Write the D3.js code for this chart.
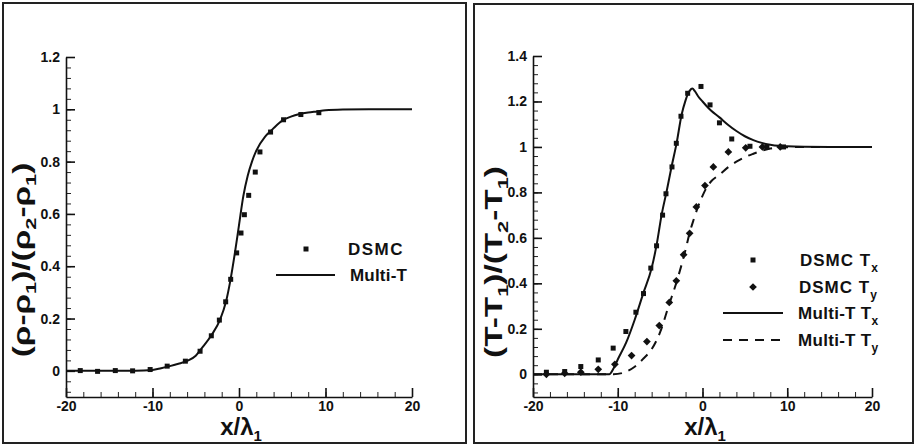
<!DOCTYPE html>
<html>
<head>
<meta charset="utf-8">
<script src="https://cdn.jsdelivr.net/npm/d3@7"></script>
<style>
  body { margin: 0; background: #fff; }
  text { font-family: "Liberation Sans", Arial, sans-serif; font-weight: bold; fill: #111; }
</style>
</head>
<body>
<div id="chart"></div>
<script>
// axis ticks
var xTicks = [-20, -10, 0, 10, 20];
var xTickLabels = ["-20", "-10", "0", "10", "20"];
var rhoYTicks = [0, 0.2, 0.4, 0.6, 0.8, 1, 1.2];
var rhoYTickLabels = ["0", "0.2", "0.4", "0.6", "0.8", "1", "1.2"];
var tYTicks = [0, 0.2, 0.4, 0.6, 0.8, 1, 1.2, 1.4];
var tYTickLabels = ["0", "0.2", "0.4", "0.6", "0.8", "1", "1.2", "1.4"];

// density: DSMC points
var rhoDsmcX = [-18.35, -16.35, -14.3, -12.3, -10.27, -8.3, -6.2, -4.5, -3.2, -2.27, -1.54, -0.96, -0.27, 0.23, 0.62, 1.12, 1.88, 2.42, 3.65, 5.15, 7.15, 9.23];
var rhoDsmcY = [0.001, -0.002, 0.001, 0, 0.005, 0.018, 0.037, 0.075, 0.134, 0.194, 0.264, 0.35, 0.451, 0.527, 0.597, 0.671, 0.76, 0.837, 0.913, 0.96, 0.98, 0.987];
// density: Multi-T curve
var rhoMultiX = [-20, -12, -10, -9, -8, -7, -6, -5, -4.3, -3.15, -2.2, -1.5, -1, -0.5, 0, 0.5, 1, 1.5, 2, 3, 3.6, 4, 5, 6, 7, 8, 9, 10, 12, 15, 20];
var rhoMultiY = [0, 0, 0.003, 0.01, 0.018, 0.027, 0.038, 0.058, 0.087, 0.138, 0.195, 0.265, 0.345, 0.445, 0.557, 0.668, 0.745, 0.8, 0.842, 0.895, 0.915, 0.928, 0.957, 0.972, 0.982, 0.988, 0.992, 0.996, 0.999, 1, 1];

// temperature: DSMC Tx (squares)
var txDsmcX = [-18.42, -16.26, -14.36, -12.3, -10.54, -9.04, -7.86, -6.96, -6.1, -5.42, -4.71, -4.31, -3.6, -3.09, -2.54, -1.75, -0.18, 0.89, 2.0, 3.45, 5.6, 7.6, 9.56];
var txDsmcY = [0.009, 0.012, 0.034, 0.063, 0.115, 0.188, 0.273, 0.355, 0.467, 0.565, 0.7, 0.794, 0.912, 1.016, 1.135, 1.236, 1.266, 1.185, 1.106, 1.035, 1.003, 1.0, 1.0];
// temperature: DSMC Ty (diamonds)
var tyDsmcX = [-18.42, -16.26, -14.36, -12.3, -10.34, -8.37, -6.56, -5.1, -3.92, -3.09, -2.23, -1.52, -0.73, 0.29, 1.28, 3.05, 5.1, 7.07, 9.17];
var tyDsmcY = [0, 0.004, 0.009, 0.022, 0.044, 0.082, 0.144, 0.214, 0.316, 0.411, 0.526, 0.62, 0.736, 0.83, 0.912, 0.978, 0.996, 1.0, 1.0];
// temperature: Multi-T Tx (solid)
var txMultiX = [-20, -11, -10.5, -10, -9, -8, -7, -6, -5.41, -4.82, -4.23, -3.64, -3.05, -2.46, -2, -1.75, -1.5, -1.2, -0.9, -0.5, 0, 0.5, 1, 2, 3, 4, 5, 6, 7, 8, 9, 10, 12, 15, 20];
var txMultiY = [0, 0, 0.025, 0.065, 0.14, 0.24, 0.355, 0.467, 0.57, 0.702, 0.805, 0.915, 1.018, 1.143, 1.205, 1.231, 1.248, 1.257, 1.245, 1.222, 1.2, 1.179, 1.16, 1.13, 1.098, 1.07, 1.047, 1.03, 1.018, 1.01, 1.005, 1.003, 1.001, 1, 1];
// temperature: Multi-T Ty (dashed)
var tyMultiX = [-20, -10.5, -9.5, -9, -8, -7, -6, -5, -4, -3, -2, -1.5, -1, -0.5, 0, 0.5, 1, 2, 3, 4, 5, 6, 7, 8, 9, 10, 12, 20];
var tyMultiY = [0, 0, 0.005, 0.012, 0.033, 0.068, 0.11, 0.185, 0.3, 0.413, 0.548, 0.625, 0.685, 0.74, 0.785, 0.822, 0.848, 0.878, 0.91, 0.935, 0.955, 0.97, 0.983, 0.993, 0.997, 0.999, 1, 1];

function zip(xs, ys) { return xs.map(function(v, i) { return {x: v, y: ys[i]}; }); }

var svg = d3.select("#chart").append("svg")
  .attr("width", 915)
  .attr("height", 446);

// panel frames
svg.append("rect").attr("x", 3).attr("y", 3).attr("width", 463).attr("height", 440)
  .attr("fill", "none").attr("stroke", "#222").attr("stroke-width", 2);
svg.append("rect").attr("x", 474).attr("y", 4).attr("width", 439).attr("height", 439)
  .attr("fill", "none").attr("stroke", "#222").attr("stroke-width", 2);

// marker shapes: square, and the same square turned 45 degrees
var markers = {
  square: {type: d3.symbolSquare, size: 25, rot: 0},
  diamond: {type: d3.symbolSquare, size: 30, rot: 45}
};

// text made of plain and subscript parts
function richText(t, parts, bigSize, subSize, shift) {
  var down = false;
  parts.forEach(function(part) {
    var s = t.append("tspan").text(part.t);
    if (part.sub) {
      s.attr("dy", down ? 0 : shift).style("font-size", subSize + "px");
      down = true;
    } else {
      s.attr("dy", down ? -shift : 0).style("font-size", bigSize + "px");
      down = false;
    }
  });
}

function drawPanel(p) {
  var g = svg.append("g");
  var x = d3.scaleLinear().domain([-20, 20]).range(p.xRange);
  var y = d3.scaleLinear().domain(p.yDomain).range(p.yRange);

  // minor ticks
  g.append("g").attr("transform", "translate(0," + p.yRange[0] + ")")
    .call(d3.axisBottom(x).tickValues(d3.range(-20, 20.1, 2)).tickSize(-5).tickFormat(""))
    .call(function(a) { a.select(".domain").remove(); a.selectAll("line").attr("stroke", "#222").attr("stroke-width", 1); });
  var yMinor = d3.range(-0.08, p.yDomain[1] + 0.001, 0.04);
  g.append("g").attr("transform", "translate(" + p.xRange[0] + ",0)")
    .call(d3.axisLeft(y).tickValues(yMinor).tickSize(-5).tickFormat(""))
    .call(function(a) { a.select(".domain").remove(); a.selectAll("line").attr("stroke", "#222").attr("stroke-width", 1); });

  // major axes
  var xAxis = g.append("g").attr("transform", "translate(0," + p.yRange[0] + ")")
    .call(d3.axisBottom(x).tickValues(xTicks).tickSizeInner(-9).tickSizeOuter(0).tickPadding(4)
      .tickFormat(function(d, i) { return xTickLabels[i]; }));
  var yAxis = g.append("g").attr("transform", "translate(" + p.xRange[0] + ",0)")
    .call(d3.axisLeft(y).tickValues(p.yTicks).tickSizeInner(-9).tickSizeOuter(0).tickPadding(6)
      .tickFormat(function(d, i) { return p.yTickLabels[i]; }));
  [xAxis, yAxis].forEach(function(a) {
    a.select(".domain").attr("stroke", "#111").attr("stroke-width", 1.6);
    a.selectAll(".tick line").attr("stroke", "#111").attr("stroke-width", 1.6);
    a.selectAll(".tick text").style("font-size", "14px");
  });

  var line = d3.line().x(function(d) { return x(d.x); }).y(function(d) { return y(d.y); })
    .curve(d3.curveMonotoneX);

  p.lines.forEach(function(l) {
    g.append("path").datum(l.data)
      .attr("fill", "none").attr("stroke", "#111").attr("stroke-width", 2)
      .attr("stroke-dasharray", l.dash || null)
      .attr("d", line);
  });
  p.points.forEach(function(s) {
    var m = markers[s.marker];
    g.selectAll(null).data(s.data).enter().append("path")
      .attr("transform", function(d) { return "translate(" + x(d.x) + "," + y(d.y) + ") rotate(" + m.rot + ")"; })
      .attr("d", d3.symbol().type(m.type).size(m.size))
      .attr("fill", "#111");
  });

  // x title
  var xt = g.append("text").attr("x", p.xTitleX).attr("y", 435).attr("text-anchor", "middle");
  richText(xt, [{t: "x/\u03bb"}, {t: "1", sub: true}], 24, 15, 6);

  // y title (rotated, stretched along its length like the original)
  var yt = g.append("text")
    .attr("transform", "translate(" + p.yTitleX + "," + p.yTitleY + ") rotate(-90) scale(1.45,1)")
    .attr("text-anchor", "middle");
  richText(yt, p.yTitle, 23, 15, 6);

  // legend
  p.legend.forEach(function(e) {
    if (e.kind === "line") {
      g.append("line").attr("x1", e.x1).attr("x2", e.x2).attr("y1", e.y).attr("y2", e.y)
        .attr("stroke", "#111").attr("stroke-width", 2).attr("stroke-dasharray", e.dash || null);
    } else {
      var m = markers[e.marker];
      g.append("path").attr("transform", "translate(" + e.mx + "," + e.y + ") rotate(" + m.rot + ")")
        .attr("d", d3.symbol().type(m.type).size(m.size)).attr("fill", "#111");
    }
    var t = g.append("text").attr("x", e.tx).attr("y", e.y + 6).style("font-size", "17px")
      .attr("letter-spacing", e.ls);
    t.append("tspan").text(e.label);
    if (e.sub) t.append("tspan").attr("dy", 6).style("font-size", "12px").attr("letter-spacing", 0).text(e.sub);
  });
}

drawPanel({
  xRange: [66, 412], yDomain: [-0.1, 1.2], yRange: [397, 57],
  yTicks: rhoYTicks, yTickLabels: rhoYTickLabels,
  xTitleX: 241, yTitleX: 30, yTitleY: 260,
  yTitle: [{t: "(\u03c1-\u03c1"}, {t: "1", sub: true}, {t: ")/(\u03c1"}, {t: "2", sub: true}, {t: "-\u03c1"}, {t: "1", sub: true}, {t: ")"}],
  lines: [{data: zip(rhoMultiX, rhoMultiY)}],
  points: [{data: zip(rhoDsmcX, rhoDsmcY), marker: "square"}],
  legend: [
    {kind: "point", marker: "square", mx: 306, y: 249, tx: 348, label: "DSMC", ls: 1.5},
    {kind: "line", x1: 276, x2: 335, y: 275, tx: 350, label: "Multi-T", ls: 0.2}
  ]
});

drawPanel({
  xRange: [533, 872], yDomain: [-0.1, 1.4], yRange: [397, 56],
  yTicks: tYTicks, yTickLabels: tYTickLabels,
  xTitleX: 705, yTitleX: 502, yTitleY: 262,
  yTitle: [{t: "(T-T"}, {t: "1", sub: true}, {t: ")/(T"}, {t: "2", sub: true}, {t: "-T"}, {t: "1", sub: true}, {t: ")"}],
  lines: [{data: zip(txMultiX, txMultiY)}, {data: zip(tyMultiX, tyMultiY), dash: "9,7"}],
  points: [
    {data: zip(txDsmcX, txDsmcY), marker: "square"},
    {data: zip(tyDsmcX, tyDsmcY), marker: "diamond"}
  ],
  legend: [
    {kind: "point", marker: "square", mx: 753, y: 260, tx: 800, label: "DSMC T", sub: "x", ls: 1},
    {kind: "point", marker: "diamond", mx: 753, y: 287, tx: 799, label: "DSMC T", sub: "y", ls: 1},
    {kind: "line", x1: 723, x2: 783, y: 313, tx: 798, label: "Multi-T T", sub: "x", ls: 0.3},
    {kind: "line", x1: 723, x2: 783, y: 340, dash: "9,7", tx: 798, label: "Multi-T T", sub: "y", ls: 0.3}
  ]
});
</script>
</body>
</html>
